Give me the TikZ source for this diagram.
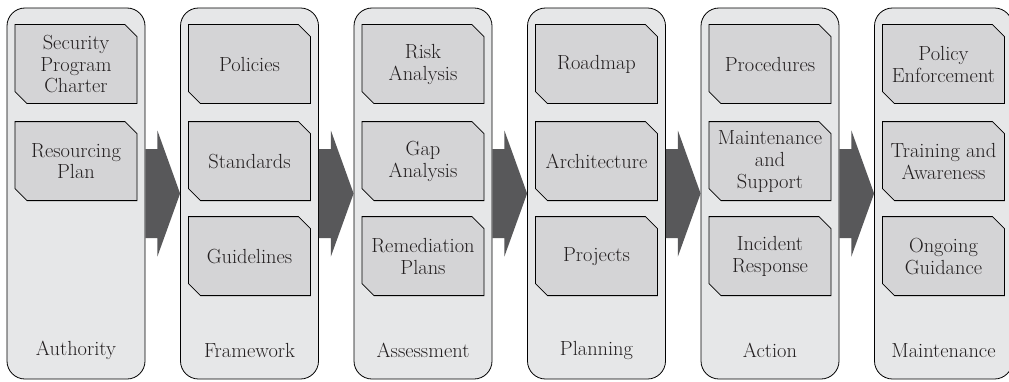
\documentclass[tikz,border=0pt]{standalone}
\usetikzlibrary{shapes.misc,positioning}
\definecolor{colfill}{HTML}{E6E7E8}
\definecolor{boxfill}{HTML}{D4D4D6}
\definecolor{arrowfill}{HTML}{58585A}
\definecolor{ink}{HTML}{231F20}
\begin{document}
\begin{tikzpicture}[x=1bp,y=1bp,
    stage/.style={draw=black,line width=0.8bp,fill=colfill,rounded corners=18bp,
        minimum width=138bp,minimum height=371bp,inner sep=0pt},
    item/.style={chamfered rectangle,chamfered rectangle corners={north east,south west},
        chamfered rectangle xsep=6bp,chamfered rectangle ysep=6bp,
        draw=black,line width=0.8bp,fill=boxfill,minimum width=122bp,minimum height=79bp,
        inner sep=0pt,align=center,text=ink,font=\fontsize{20.5}{22}\selectfont},
    stagelabel/.style={text=ink,font=\fontsize{20.5}{22}\selectfont,inner sep=0pt},
    stagearrow/.style={fill=arrowfill}]
    \useasboundingbox (0,0) rectangle (1009,381);
    %% the six stages
    \foreach \i in {1,...,6}
        \node[stage] (col\i) at ({76+173.5*(\i-1)},187.5) {};
    %% arrows between the stages
    \foreach \i/\j in {1/2,2/3,3/4,4/5,5/6}
        \fill[stagearrow] ([yshift=44.5bp]col\i.east) -- ([xshift=12bp,yshift=44.5bp]col\i.east)
            -- ([xshift=12bp,yshift=63bp]col\i.east) -- (col\j.west)
            -- ([xshift=12bp,yshift=-63bp]col\i.east) -- ([xshift=12bp,yshift=-44.5bp]col\i.east)
            -- ([yshift=-44.5bp]col\i.east) -- cycle;
    %% authority
    \node[item] (charter) at ([yshift=-56.5bp]col1.north) {Security\\Program\\Charter};
    \node[item] (resourcing) at ([yshift=-153.5bp]col1.north) {Resourcing\\Plan};
    \node[stagelabel] (authority) at ([yshift=29bp]col1.south) {Authority};
    %% framework
    \node[item] (policies) at ([yshift=-56.5bp]col2.north) {Policies};
    \node[item] (standards) at ([yshift=-153.5bp]col2.north) {Standards};
    \node[item] (guidelines) at ([yshift=-248.5bp]col2.north) {Guidelines};
    \node[stagelabel] (framework) at ([yshift=29bp]col2.south) {Framework};
    %% assessment
    \node[item] (risk) at ([yshift=-56.5bp]col3.north) {Risk\\Analysis};
    \node[item] (gap) at ([yshift=-153.5bp]col3.north) {Gap\\Analysis};
    \node[item] (remediation) at ([yshift=-248.5bp]col3.north) {Remediation\\Plans};
    \node[stagelabel] (assessment) at ([yshift=29bp]col3.south) {Assessment};
    %% planning
    \node[item] (roadmap) at ([yshift=-56.5bp]col4.north) {Roadmap};
    \node[item] (architecture) at ([yshift=-153.5bp]col4.north) {Architecture};
    \node[item] (projects) at ([yshift=-248.5bp]col4.north) {Projects};
    \node[stagelabel] (planning) at ([yshift=29bp]col4.south) {Planning};
    %% action
    \node[item] (procedures) at ([yshift=-56.5bp]col5.north) {Procedures};
    \node[item] (support) at ([yshift=-153.5bp]col5.north) {Maintenance\\and\\Support};
    \node[item] (incident) at ([yshift=-248.5bp]col5.north) {Incident\\Response};
    \node[stagelabel] (action) at ([yshift=29bp]col5.south) {Action};
    %% maintenance
    \node[item] (enforcement) at ([yshift=-56.5bp]col6.north) {Policy\\Enforcement};
    \node[item] (training) at ([yshift=-153.5bp]col6.north) {Training and\\Awareness};
    \node[item] (guidance) at ([yshift=-248.5bp]col6.north) {Ongoing\\Guidance};
    \node[stagelabel] (maintenance) at ([yshift=29bp]col6.south) {Maintenance};
\end{tikzpicture}
\end{document}
